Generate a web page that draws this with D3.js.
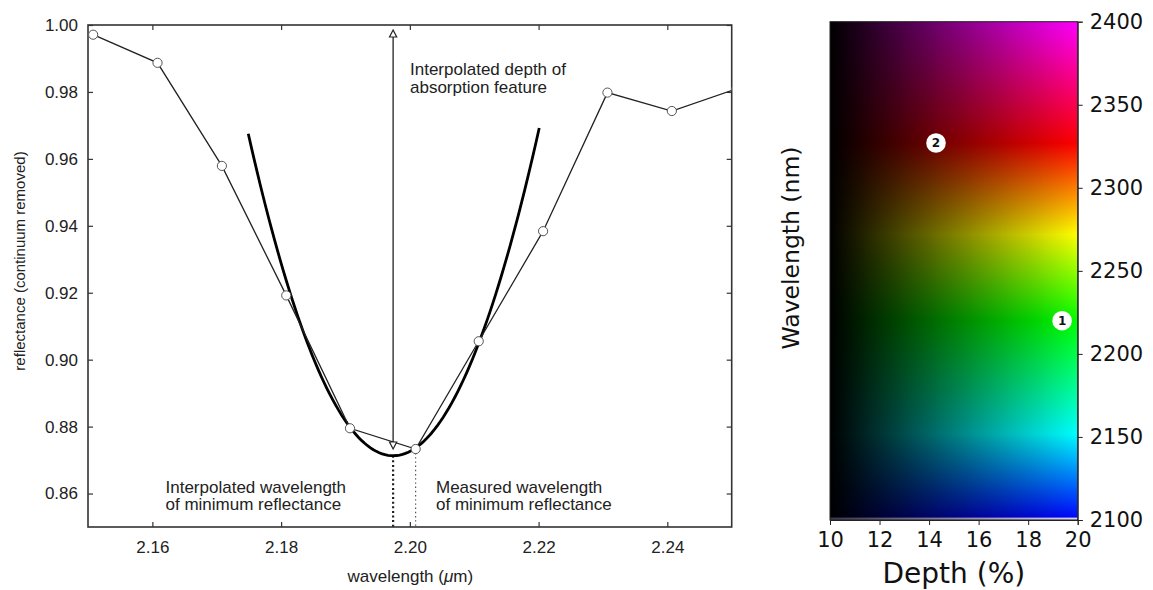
<!DOCTYPE html>
<html>
<head>
<meta charset="utf-8">
<script src="https://cdn.jsdelivr.net/npm/d3@7"></script>
<style>
  html, body { margin: 0; padding: 0; background: #fff; }
  svg { display: block; }
  .lp text { font-family: "Liberation Sans", Arial, sans-serif; fill: #222; }
  .rp text { font-family: "DejaVu Sans", sans-serif; fill: #111; }
</style>
</head>
<body>
<svg id="chart" width="1153" height="590"></svg>
<script>
// ---- Spectrum (continuum removed) ----
const wavelengths = [2.1508, 2.1608, 2.1708, 2.1808, 2.1907, 2.2009, 2.2107, 2.2207, 2.2307, 2.2407, 2.2507];
const reflectance = [0.9971, 0.9887, 0.9579, 0.9192, 0.8795, 0.8733, 0.9055, 0.9384, 0.9798, 0.9743, 0.9809];

// Quadratic fit around the absorption minimum: y = vertexY + curvature * (x - vertexX)^2
const fitVertex = [2.1974, 0.8713];
const fitCurvature = 190;
const fitRange = [2.1749, 2.2201];

// Measured minimum (lowest sample) and continuum level for the depth arrow
const measuredMin = [2.2009, 0.8733];
const continuumLevel = 0.9985;

const xTicks = [2.16, 2.18, 2.20, 2.22, 2.24];
const yTicks = [0.86, 0.88, 0.90, 0.92, 0.94, 0.96, 0.98, 1.00];

// ---- Wavelength / depth colour key ----
const depthTicks = [10, 12, 14, 16, 18, 20];
const wlTicks = [2100, 2150, 2200, 2250, 2300, 2350, 2400];
// hue stops (nm -> rgb at full depth)
const hueStopsNm = [2100, 2152, 2220, 2272, 2327, 2400];
const hueStopsRgb = [[0, 0, 255], [0, 255, 255], [0, 255, 0], [255, 255, 0], [255, 0, 0], [255, 0, 255]];
// numbered sample positions: [depth %, wavelength nm, label, text colour]
const samples = [
  [19.37, 2220, "1", "#3cc63c"],
  [14.28, 2327, "2", "#8a1a2a"]
];

const svg = d3.select("#chart");

// ================= Left panel =================
const L = { x0: 88, x1: 731.7, y0: 25, y1: 527 };
const x = d3.scaleLinear().domain([2.15, 2.25]).range([L.x0, L.x1]);
const y = d3.scaleLinear().domain([0.85, 1.00]).range([L.y1, L.y0]);

const lp = svg.append("g").attr("class", "lp");

lp.append("clipPath").attr("id", "plotClip")
  .append("rect").attr("x", L.x0).attr("y", L.y0)
  .attr("width", L.x1 - L.x0).attr("height", L.y1 - L.y0);

// axes with inward ticks
const axStyle = g => {
  g.select(".domain").remove();
  g.selectAll(".tick line").attr("stroke", "#333").attr("stroke-width", 1.2);
};
lp.append("g").attr("transform", `translate(0,${L.y1})`)
  .call(d3.axisBottom(x).tickValues(xTicks).tickSize(-5).tickPadding(14).tickFormat(d3.format(".2f")))
  .call(axStyle)
  .selectAll("text").attr("font-size", 17).attr("fill", "#222");
lp.append("g").attr("transform", `translate(0,${L.y0})`)
  .call(d3.axisTop(x).tickValues(xTicks).tickSize(-5).tickFormat(""))
  .call(axStyle);
lp.append("g").attr("transform", `translate(${L.x0},0)`)
  .call(d3.axisLeft(y).tickValues(yTicks).tickSize(-5).tickPadding(10).tickFormat(d3.format(".2f")))
  .call(axStyle)
  .selectAll("text").attr("font-size", 17).attr("fill", "#222");
lp.append("g").attr("transform", `translate(${L.x1},0)`)
  .call(d3.axisRight(y).tickValues(yTicks).tickSize(-5).tickFormat(""))
  .call(axStyle);

lp.append("rect")
  .attr("x", L.x0).attr("y", L.y0)
  .attr("width", L.x1 - L.x0).attr("height", L.y1 - L.y0)
  .attr("fill", "none").attr("stroke", "#333").attr("stroke-width", 1.6);

// dotted guides down to the axis
lp.append("line")
  .attr("x1", x(fitVertex[0])).attr("x2", x(fitVertex[0]))
  .attr("y1", y(fitVertex[1])).attr("y2", L.y1)
  .attr("stroke", "#222").attr("stroke-width", 2.2).attr("stroke-dasharray", "2,2.6");
lp.append("line")
  .attr("x1", x(measuredMin[0])).attr("x2", x(measuredMin[0]))
  .attr("y1", y(measuredMin[1]) + 4).attr("y2", L.y1)
  .attr("stroke", "#444").attr("stroke-width", 1.1).attr("stroke-dasharray", "1.4,2.8");

const pts = wavelengths.map((w, i) => [w, reflectance[i]]);
const plot = lp.append("g").attr("clip-path", "url(#plotClip)");

// fitted parabola
const fitFn = w => fitVertex[1] + fitCurvature * (w - fitVertex[0]) ** 2;
const fitPts = d3.range(0, 101).map(i => {
  const w = fitRange[0] + (fitRange[1] - fitRange[0]) * i / 100;
  return [w, fitFn(w)];
});
plot.append("path")
  .attr("d", d3.line().x(d => x(d[0])).y(d => y(d[1]))(fitPts))
  .attr("fill", "none").attr("stroke", "#000").attr("stroke-width", 2.8);

// measured spectrum
plot.append("path")
  .attr("d", d3.line().x(d => x(d[0])).y(d => y(d[1]))(pts))
  .attr("fill", "none").attr("stroke", "#222").attr("stroke-width", 1.3);
plot.selectAll("circle.s").data(pts).join("circle")
  .attr("class", "s")
  .attr("cx", d => x(d[0])).attr("cy", d => y(d[1])).attr("r", 4.6)
  .attr("fill", "#fff").attr("stroke", "#555").attr("stroke-width", 1);

// depth arrow (open triangular heads at both ends)
const ax = x(fitVertex[0]);
const aTop = y(continuumLevel), aBot = y(measuredMin[1]);
lp.append("line")
  .attr("x1", ax).attr("x2", ax).attr("y1", aTop + 6).attr("y2", aBot - 6)
  .attr("stroke", "#222").attr("stroke-width", 1.3);
lp.append("path")
  .attr("d", `M${ax},${aTop} L${ax - 3.6},${aTop + 7} L${ax + 3.6},${aTop + 7} Z`)
  .attr("fill", "#fff").attr("stroke", "#222").attr("stroke-width", 1.2);
lp.append("path")
  .attr("d", `M${ax},${aBot} L${ax - 3.6},${aBot - 7} L${ax + 3.6},${aBot - 7} Z`)
  .attr("fill", "#fff").attr("stroke", "#222").attr("stroke-width", 1.2);

// annotations
const note = (tx, ty, lines, color) => {
  const t = lp.append("text").attr("x", tx).attr("y", ty)
    .attr("font-size", 17).attr("fill", color);
  lines.forEach((s, i) => t.append("tspan").attr("x", tx).attr("dy", i ? 17.6 : 0).text(s));
};
note(410, 75, ["Interpolated depth of", "absorption feature"], "#222");
note(165.5, 492.5, ["Interpolated wavelength", "of minimum reflectance"], "#222");
note(436, 492.5, ["Measured wavelength", "of minimum reflectance"], "#8a8a8a");

lp.append("text")
  .attr("x", (L.x0 + L.x1) / 2 + 0.5).attr("y", 582).attr("text-anchor", "middle")
  .attr("font-size", 17).attr("fill", "#222")
  .text("wavelength (")
  .append("tspan").attr("font-style", "italic").text("\u03bc")
  .select(function () { return this.parentNode; })
  .append("tspan").text("m)");

lp.append("text")
  .attr("transform", `translate(25,261) rotate(-90)`)
  .attr("text-anchor", "middle").attr("font-size", 15).attr("fill", "#222")
  .text("reflectance (continuum removed)");

// ================= Right panel =================
const R = { x0: 830, x1: 1077.7, y0: 21.7, y1: 520 };
const dx = d3.scaleLinear().domain([10, 20]).range([R.x0, R.x1]);
const wy = d3.scaleLinear().domain([2100, 2400]).range([R.y1, R.y0]);
const hueScale = d3.scaleLinear().domain(hueStopsNm).range(hueStopsRgb.map(c => d3.rgb(...c)))
  .interpolate(d3.interpolateRgb).clamp(true);

const rp = svg.append("g").attr("class", "rp");

// colour key raster
const cw = Math.round(R.x1 - R.x0), ch = Math.round(R.y1 - R.y0);
const canvas = document.createElement("canvas");
canvas.width = cw; canvas.height = ch;
const ctx = canvas.getContext("2d");
const img = ctx.createImageData(cw, ch);
for (let j = 0; j < ch; j++) {
  const wl = wy.invert(R.y0 + (j + 0.5) * (R.y1 - R.y0) / ch);
  const c = d3.rgb(hueScale(wl));
  for (let i = 0; i < cw; i++) {
    const dep = dx.invert(R.x0 + (i + 0.5) * (R.x1 - R.x0) / cw);
    const k = Math.max(0, Math.min(1, (dep - 10) / 10));
    const p = (j * cw + i) * 4;
    img.data[p] = c.r * k; img.data[p + 1] = c.g * k; img.data[p + 2] = c.b * k; img.data[p + 3] = 255;
  }
}
ctx.putImageData(img, 0, 0);
rp.append("image")
  .attr("x", R.x0).attr("y", R.y0)
  .attr("width", R.x1 - R.x0).attr("height", R.y1 - R.y0)
  .attr("preserveAspectRatio", "none")
  .attr("href", canvas.toDataURL());

// light edge row along the bottom of the key
const edge = rp.append("defs").append("linearGradient").attr("id", "edgeGrad");
edge.append("stop").attr("offset", "0%").attr("stop-color", "#3a3850");
edge.append("stop").attr("offset", "100%").attr("stop-color", "#ddd6ff");
rp.append("rect")
  .attr("x", R.x0).attr("y", R.y1 - 2.4).attr("width", R.x1 - R.x0).attr("height", 2.4)
  .attr("fill", "url(#edgeGrad)");

rp.append("rect")
  .attr("x", R.x0).attr("y", R.y0).attr("width", R.x1 - R.x0).attr("height", R.y1 - R.y0)
  .attr("fill", "none").attr("stroke", "#222").attr("stroke-width", 1);

const rStyle = g => {
  g.select(".domain").attr("stroke", "#222");
  g.selectAll(".tick line").attr("stroke", "#222");
  g.selectAll("text").attr("font-size", 21).attr("fill", "#111")
    .attr("font-family", "'DejaVu Sans', sans-serif");
};
rp.append("g").attr("transform", `translate(${R.x1},0)`)
  .call(d3.axisRight(wy).tickValues(wlTicks).tickSize(5).tickPadding(7).tickFormat(d3.format("d")))
  .call(rStyle);
rp.append("g").attr("transform", `translate(0,${R.y1})`)
  .call(d3.axisBottom(dx).tickValues(depthTicks).tickSize(5).tickPadding(7).tickFormat(d3.format("d")))
  .call(rStyle);

rp.append("text")
  .attr("x", (R.x0 + R.x1) / 2).attr("y", 583).attr("text-anchor", "middle")
  .attr("font-size", 28).text("Depth (%)");
rp.append("text")
  .attr("transform", `translate(799,248) rotate(-90)`)
  .attr("text-anchor", "middle").attr("font-size", 23.5).text("Wavelength (nm)");

// numbered sample markers
const mk = rp.selectAll("g.mk").data(samples).join("g").attr("class", "mk")
  .attr("transform", d => `translate(${dx(d[0])},${wy(d[1])})`);
mk.append("circle").attr("r", 9.8).attr("fill", "#fff");
mk.append("text").attr("text-anchor", "middle").attr("dy", "0.36em")
  .attr("font-size", 12).attr("font-weight", "bold")
  .attr("fill", d => d[3]).text(d => d[2]);
</script>
</body>
</html>
